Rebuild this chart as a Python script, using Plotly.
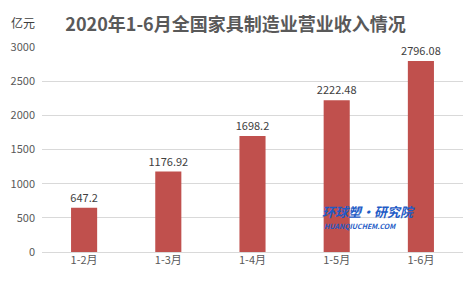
import plotly.graph_objects as go

categories = ["1-2月", "1-3月", "1-4月", "1-5月", "1-6月"]
values = [647.2, 1176.92, 1698.2, 2222.48, 2796.08]
value_labels = ["647.2", "1176.92", "1698.2", "2222.48", "2796.08"]
y_ticks = [0, 500, 1000, 1500, 2000, 2500, 3000]

fig = go.Figure()
fig.add_trace(go.Bar(
    x=categories, y=values, width=0.31,
    marker=dict(color="#C0504D", line=dict(width=0)),
    text=value_labels, textposition="outside", constraintext="none",
    textfont=dict(size=11, color="#404040", family="Noto Sans CJK SC"),
    cliponaxis=False,
))

fig.update_layout(
    width=471, height=285,
    margin=dict(l=42, r=8, t=47, b=33),
    paper_bgcolor="white", plot_bgcolor="white",
    showlegend=False,
    font=dict(family="Noto Sans CJK SC", color="#595959", size=11),
    title=dict(text="<b>2020年1-6月全国家具制造业营业收入情况</b>",
               x=0.5, xanchor="center", y=0.915, yanchor="middle",
               font=dict(size=18, color="#595959", family="Noto Sans CJK SC")),
    xaxis=dict(showgrid=False, showline=False, ticks="", tickfont=dict(size=11, color="#595959")),
    yaxis=dict(range=[0, 3000], tickvals=y_ticks, showgrid=True, gridcolor="#D9D9D9",
               gridwidth=1, zeroline=True, zerolinecolor="#D9D9D9", zerolinewidth=1,
               ticks="", tickfont=dict(size=11, color="#595959"), ticklabelstandoff=6),
    bargap=0.69,
)
fig.add_annotation(text="亿元", xref="paper", yref="paper", x=-0.078, y=1.12,
                   xanchor="left", yanchor="middle", showarrow=False,
                   font=dict(size=12, color="#404040"))
fig.add_annotation(text="<b><i>环球塑·研究院</i></b>", xref="paper", yref="paper",
                   x=0.66, y=0.2, xanchor="left", yanchor="middle", showarrow=False,
                   font=dict(size=13, color="#1E5BC6"))
fig.add_annotation(text="<b><i>HUANQIUCHEM.COM</i></b>", xref="paper", yref="paper",
                   x=0.665, y=0.125, xanchor="left", yanchor="middle", showarrow=False,
                   font=dict(size=7, color="#1E5BC6"))
fig.write_html("out.html")
